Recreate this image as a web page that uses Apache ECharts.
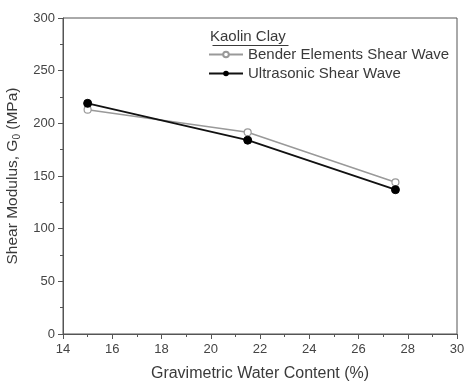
<!DOCTYPE html>
<html>
<head>
<meta charset="utf-8">
<script src="https://cdn.jsdelivr.net/npm/echarts@6/dist/echarts.min.js"></script>
<style>
  html, body { margin: 0; padding: 0; background: #fff; }
  #chart { width: 464px; height: 383px; }
</style>
</head>
<body>
<div id="chart"></div>
<script>
// water content (%) and shear modulus G0 (MPa)
const waterContent = [15, 21.5, 27.5]
const benderG0 = [213, 191.5, 144]
const ultrasonicG0 = [219, 184, 137]
const xTicks = [14, 16, 18, 20, 22, 24, 26, 28, 30]
const yTicks = [0, 50, 100, 150, 200, 250, 300]

const font = 'Liberation Sans, Arial, sans-serif'
const axisColor = '#555'
const textColor = '#3a3a3a'

const chart = echarts.init(document.getElementById('chart'))

const toPairs = (xs, ys) => xs.map((x, i) => [x, ys[i]])

chart.setOption({
  backgroundColor: '#fff',
  animation: false,
  grid: {
    left: 63, top: 18, right: 7, bottom: 49,
    outerBoundsMode: 'none',
    containLabel: false,
    show: true, borderColor: axisColor, borderWidth: 1,
  },
  legend: {
    left: 208, top: 47,
    padding: 0,
    orient: 'vertical',
    itemWidth: 34, itemHeight: 7, itemGap: 4,
    textStyle: { fontFamily: font, fontSize: 15, color: textColor },
    data: ['Bender Elements Shear Wave', 'Ultrasonic Shear Wave'],
  },
  graphic: [
    {
      type: 'text', left: 210, top: 29,
      style: { text: 'Kaolin Clay', font: '15px ' + font, fill: textColor },
    },
    {
      type: 'line', left: 210, top: 43,
      shape: { x1: 0, y1: 0, x2: 76, y2: 0 },
      style: { stroke: textColor, lineWidth: 1 },
    },
  ],
  xAxis: {
    type: 'value',
    min: xTicks[0], max: xTicks[xTicks.length - 1], interval: 2,
    name: 'Gravimetric Water Content (%)',
    nameLocation: 'middle', nameGap: 32,
    nameTextStyle: { fontFamily: font, fontSize: 16, color: textColor },
    axisLine: { lineStyle: { color: axisColor } },
    axisTick: { inside: false, length: 5, lineStyle: { color: axisColor } },
    minorTick: { show: true, splitNumber: 2, length: 3, lineStyle: { color: axisColor } },
    axisLabel: { fontFamily: font, fontSize: 13, color: '#444', margin: 9 },
    splitLine: { show: false },
  },
  yAxis: {
    type: 'value',
    min: yTicks[0], max: yTicks[yTicks.length - 1], interval: 50,
    name: 'Shear Modulus, G{sub|0} (MPa)',
    nameLocation: 'middle', nameGap: 41,
    nameTextStyle: {
      fontFamily: font, fontSize: 15.5, color: textColor,
      rich: { sub: { fontFamily: font, fontSize: 10, color: textColor, verticalAlign: 'bottom', padding: [9, 0, 0, 0] } },
    },
    axisLine: { show: true, lineStyle: { color: axisColor } },
    axisTick: { show: true, inside: false, length: 5, lineStyle: { color: axisColor } },
    minorTick: { show: true, splitNumber: 2, length: 3, lineStyle: { color: axisColor } },
    axisLabel: { fontFamily: font, fontSize: 13, color: '#444', margin: 8 },
    splitLine: { show: false },
  },
  series: [
    {
      name: 'Bender Elements Shear Wave',
      type: 'line',
      data: toPairs(waterContent, benderG0),
      symbol: 'circle', symbolSize: 7,
      lineStyle: { color: '#999', width: 1.5 },
      itemStyle: { color: '#fff', borderColor: '#999', borderWidth: 1.2 },
      z: 2,
    },
    {
      name: 'Ultrasonic Shear Wave',
      type: 'line',
      data: toPairs(waterContent, ultrasonicG0),
      symbol: 'circle', symbolSize: 8,
      lineStyle: { color: '#111', width: 1.8 },
      itemStyle: { color: '#000', borderColor: '#000' },
      z: 3,
    },
  ],
})
</script>
</body>
</html>
